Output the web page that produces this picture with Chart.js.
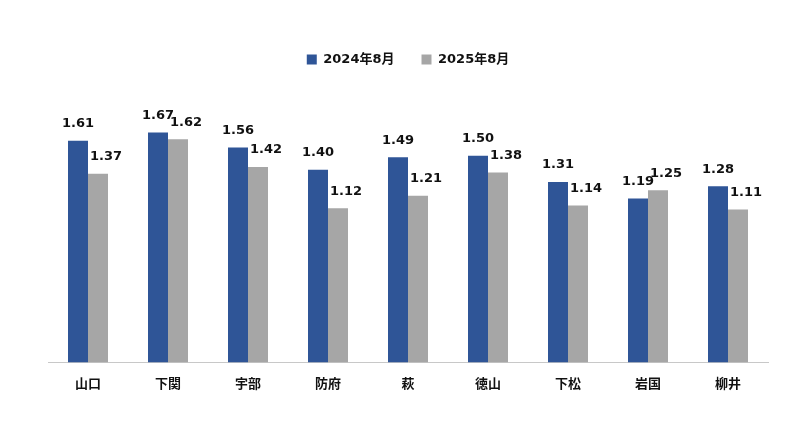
<!DOCTYPE html>
<html>
<head>
<meta charset="utf-8">
<script src="https://cdn.jsdelivr.net/npm/chart.js@4.4.1/dist/chart.umd.min.js"></script>
<style>
  html, body { margin: 0; padding: 0; background: #fff; }
  #wrap { width: 800px; height: 443px; position: relative; }
</style>
</head>
<body>
<div id="wrap"><canvas id="chart"></canvas></div>
<script>
// data
const cities = ['山口', '下関', '宇部', '防府', '萩', '徳山', '下松', '岩国', '柳井'];
const ratio2024 = [1.61, 1.67, 1.56, 1.40, 1.49, 1.50, 1.31, 1.19, 1.28];
const ratio2025 = [1.37, 1.62, 1.42, 1.12, 1.21, 1.38, 1.14, 1.25, 1.11];
const seriesNames = ['2024年8月', '2025年8月'];

const FONT = '"DejaVu Sans", "Noto Sans CJK JP", sans-serif';

// value labels above each bar
const barLabels = {
    id: 'barLabels',
    afterDatasetsDraw(chart) {
        const ctx = chart.ctx;
        ctx.save();
        ctx.font = 'bold 13px ' + FONT;
        ctx.fillStyle = '#111';
        ctx.textAlign = 'center';
        ctx.textBaseline = 'middle';
        chart.data.datasets.forEach((ds, di) => {
            const meta = chart.getDatasetMeta(di);
            meta.data.forEach((bar, i) => {
                const dx = di === 1 ? 8 : 0;
                ctx.fillText(ds.data[i].toFixed(2), bar.x + dx, bar.y - 17);
            });
        });
        ctx.restore();
    }
};

new Chart(document.getElementById('chart').getContext('2d'), {
    type: 'bar',
    data: {
        labels: cities,
        datasets: [
            {
                label: seriesNames[0],
                data: ratio2024,
                backgroundColor: '#2F5597',
                categoryPercentage: 0.5,
                barPercentage: 1.0
            },
            {
                label: seriesNames[1],
                data: ratio2025,
                backgroundColor: '#A6A6A6',
                categoryPercentage: 0.5,
                barPercentage: 1.0
            }
        ]
    },
    options: {
        responsive: true,
        maintainAspectRatio: false,
        animation: false,
        layout: {
            padding: { left: 48, right: 32, top: 26, bottom: 45 }
        },
        plugins: {
            legend: {
                display: true,
                position: 'top',
                labels: {
                    boxWidth: 10,
                    boxHeight: 10,
                    padding: 27,
                    color: '#111',
                    font: { family: FONT, size: 13, weight: 'bold' }
                }
            },
            tooltip: { enabled: false }
        },
        scales: {
            x: {
                grid: { display: false },
                border: { display: true, color: '#c8c8c8', width: 1 },
                ticks: {
                    color: '#111',
                    padding: 6,
                    font: { family: FONT, size: 13, weight: 'bold' }
                }
            },
            y: {
                display: false,
                min: 0,
                max: 2.08
            }
        }
    },
    plugins: [barLabels]
});
</script>
</body>
</html>
